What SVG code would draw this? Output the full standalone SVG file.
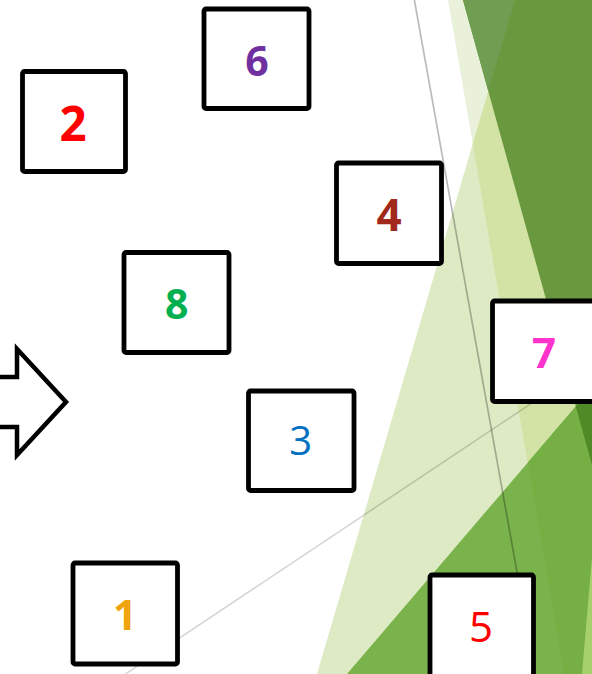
<svg xmlns="http://www.w3.org/2000/svg" width="592" height="674" viewBox="0 0 592 674">
<style>
.box{fill:#fff;stroke:#000;stroke-width:4.8;stroke-linejoin:round}
.num{font-family:"Open Sans","Liberation Sans",sans-serif;text-anchor:middle}
.b{font-weight:bold}
.conn1{stroke:#000;stroke-opacity:0.27;stroke-width:1.7;fill:none}
.conn2{stroke:#000;stroke-opacity:0.17;stroke-width:1.5;fill:none}
</style>
<rect x="0" y="0" width="592" height="674" fill="#fff"/>
<g id="background">
<polygon points="515,0 592,0 592,674 317,674" fill="#DDEAC3"/>
<polygon points="448,0 515,0 472.8,143.7" fill="#E9F1DA"/>
<polygon points="515,0 592,0 592,674 564.2,674 472.8,143.7" fill="#D2E3A5"/>
<polygon points="463,0 592,0 592,465" fill="#6A983F"/>
<polygon points="463,0 515,0 488.3,91" fill="#6F9D52"/>
<polygon points="592,387.5 592,674 347,674" fill="#7AB34B"/>
<polygon points="527.8,462.6 564.2,674 592,674 592,387.5" fill="#76B045"/>
<polygon points="575.8,406.5 592,387.5 592,465" fill="#4F8A27"/>
<polygon points="592,557 592,674 582,674" fill="#A6D06A"/>
</g>
<g id="connectors">
<line class="conn1" x1="414" y1="-2" x2="517.5" y2="575"/>
<line class="conn2" x1="532" y1="403" x2="124" y2="675"/>
</g>
<g id="arrow">
<polygon points="-10,377 17,377 17,349 66,402 17,455 17,427 -10,427" fill="#fff" stroke="#000" stroke-width="4.5" stroke-linejoin="miter"/>
</g>
<g id="node6"><rect class="box" x="204" y="9" width="105" height="99.5" rx="2"/><text class="num b" x="257" y="76" font-size="41" fill="#7030A0">6</text></g>
<g id="node2"><rect class="box" x="22.5" y="71.5" width="103" height="100" rx="2"/><text class="num b" x="73" y="140.5" font-size="47.5" fill="#FF0000">2</text></g>
<g id="node4"><rect class="box" x="336.5" y="163" width="105" height="100.5" rx="2"/><text class="num b" x="389" y="231" font-size="44" fill="#A0291B">4</text></g>
<g id="node8"><rect class="box" x="124" y="252.5" width="105" height="100" rx="2"/><text class="num b" x="176.7" y="319" font-size="41" fill="#00B050">8</text></g>
<g id="node7"><rect class="box" x="492.5" y="301" width="105" height="100.5" rx="2"/><text class="num b" x="544" y="368.3" font-size="42" fill="#FF33CC">7</text></g>
<g id="node3"><rect class="box" x="248.5" y="391" width="105.5" height="99.5" rx="2"/><text class="num" x="300.7" y="455" font-size="40" fill="#0070C0">3</text></g>
<g id="node1"><rect class="box" x="73" y="563" width="104.5" height="101" rx="2"/><text class="num b" x="125" y="630" font-size="42" fill="#F0A30A">1</text></g>
<g id="node5"><rect class="box" x="430" y="575" width="103.5" height="105" rx="2"/><text class="num" x="481" y="641.7" font-size="42" fill="#FF0000">5</text></g>
</svg>
